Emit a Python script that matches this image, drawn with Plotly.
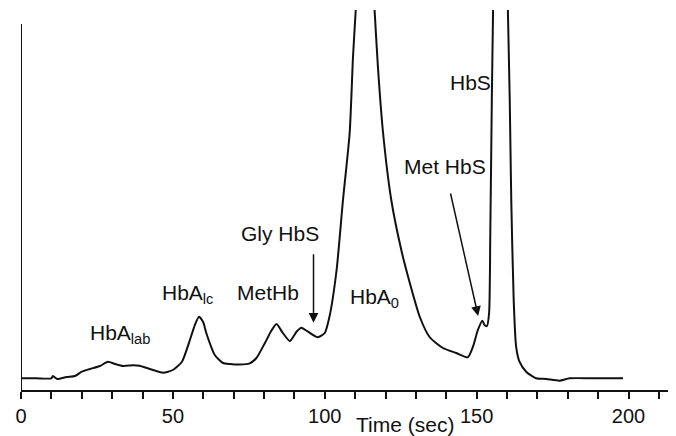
import plotly.graph_objects as go

# Retention time (sec) and detector signal (arbitrary units, baseline = 0)
time_sec = [0, 5, 10, 10.5, 11, 12, 15, 17.8, 20, 22.7, 26, 28.6, 31, 33.6, 37, 39, 42.4, 46.8,
            50, 53, 55.6, 57.2, 58.6, 60, 61, 63.8, 66.5, 68.8, 72, 75.3, 77.5, 80.3, 82.5, 84.1,
            86.2, 88.5, 90.7, 92.3, 94.5, 97.7, 100, 101.6, 103.9, 106, 108.2, 109.3, 110.2,
            113.3, 116.4, 117.5, 119.2, 121.9, 125.2, 128, 131.3, 134.5, 138.9, 143.3, 147.1,
            148.8, 150.4, 151.9, 152.6, 153.4, 154.1, 154.5, 155, 155.4, 157.6, 160.3, 160.9,
            161.4, 162.2, 163, 164.1, 166.3, 169.6, 172.9, 177.3, 180.6, 188.3, 198.2]
signal = [0, 0, 0, 2.3, 1.3, -0.7, 1.3, 2.3, 6.6, 9.3, 12.3, 16.6, 14.3, 12.3, 13, 12.6, 9.3, 5.6,
          8.3, 16.6, 38.3, 53, 61.6, 56, 45.3, 23.3, 15.3, 14.3, 13.8, 15, 20.3, 35.3, 48, 54.3,
          45.3, 37.3, 46.6, 50.6, 46.6, 41, 45.3, 62.3, 108.3, 178.3, 245.3, 321.6, 368.3,
          538, 368.3, 311.6, 245.3, 178.3, 128.3, 95.3, 61.3, 41.3, 30.3, 25.3, 21,
          31.6, 48.3, 57.6, 53.3, 52.3, 65.3, 145.3, 278.3, 366.6, 798, 366.6, 278.3,
          178.3, 78.3, 31.6, 16.6, 6.6, 0, -0.7, -2.4, 0, 0, 0]

major_ticks = [0, 50, 100, 150, 200]
major_labels = ["0", "50", "100", "150", "200"]
minor_step = 10

# Peak labels: (text, time, signal)
labels = [
    ("HbA<sub>lab</sub>", 32.6, 44),
    ("HbA<sub>lc</sub>", 54.7, 84),
    ("MetHb", 81.2, 86),
    ("Gly HbS", 85.3, 145),
    ("HbA<sub>0</sub>", 116.3, 80),
    ("Met HbS", 139.7, 212),
    ("HbS", 147.9, 296),
]
# Arrows: (tail time, tail signal, tip time, tip signal)
arrows = [
    (96.3, 125.6, 96.3, 55.6),
    (141.3, 186.3, 150.5, 62.3),
]

FONT = "Liberation Sans, Arial, sans-serif"
INK = "#111111"

fig = go.Figure()
fig.add_trace(go.Scatter(x=time_sec, y=signal, mode="lines",
                         line=dict(color=INK, width=2, shape="spline", smoothing=0.6),
                         hoverinfo="skip"))

for txt, tx, ty in labels:
    fig.add_annotation(x=tx, y=ty, xref="x", yref="y", text=txt, showarrow=False,
                       font=dict(family=FONT, size=21, color=INK),
                       xanchor="center", yanchor="middle")

for ax_, ay_, x_, y_ in arrows:
    fig.add_annotation(x=x_, y=y_, ax=ax_, ay=ay_, xref="x", yref="y", axref="x", ayref="y",
                       text="", showarrow=True, arrowhead=2, arrowsize=1.3, arrowwidth=1.5,
                       arrowcolor=INK, standoff=0, startstandoff=0)

fig.add_annotation(x=126.5, y=-0.09, xref="x", yref="paper", text="Time (sec)",
                   showarrow=False, font=dict(family=FONT, size=21, color=INK),
                   xanchor="center", yanchor="middle")

# y-axis line (shorter than plotting area)
fig.add_shape(type="line", xref="x", yref="y", x0=0, x1=0, y0=-11.7, y1=354.3,
              line=dict(color=INK, width=2))

# page body has an 8px default margin; figure offset accounted for in the margins
fig.update_layout(
    width=668, height=428,
    margin=dict(l=13, r=8, t=2, b=46),
    paper_bgcolor="white", plot_bgcolor="white",
    showlegend=False,
    xaxis=dict(range=[0, 213], showgrid=False, zeroline=False,
               showline=True, linecolor=INK, linewidth=2,
               ticks="outside", ticklen=7, tickwidth=1.5, tickcolor=INK,
               tickvals=major_ticks, ticktext=major_labels,
               tickfont=dict(family=FONT, size=20, color=INK),
               minor=dict(ticks="outside", ticklen=7, tickwidth=1.5, tickcolor=INK,
                          dtick=minor_step, tick0=0, showgrid=False)),
    yaxis=dict(range=[-11.7, 368.3], showgrid=False, zeroline=False,
               showline=False, showticklabels=False, ticks=""),
)

fig.write_html("out.html")
